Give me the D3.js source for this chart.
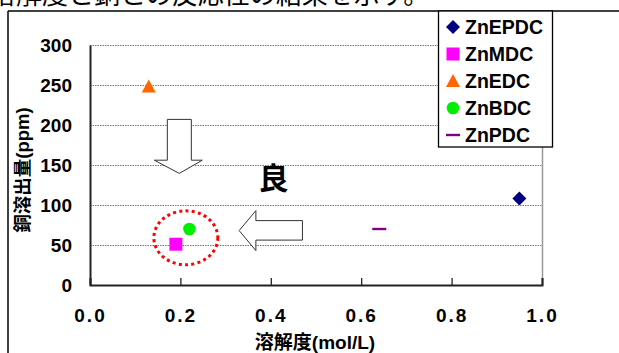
<!DOCTYPE html>
<html><head><meta charset="utf-8">
<script src="https://cdn.jsdelivr.net/npm/d3@7"></script>
<style>
html,body{margin:0;padding:0;background:#fff;overflow:hidden;}
svg{display:block;}
</style></head>
<body>
<script>
const seriesNames = ["ZnEPDC","ZnMDC","ZnEDC","ZnBDC","ZnPDC"];
const seriesX = [0.95, 0.19, 0.13, 0.22, 0.64];
const seriesY = [108, 51, 248, 70, 70];
const seriesColors = ["#000080","#ff00ff","#ff6600","#00ee00","#800080"];
const seriesShapes = ["diamond","square","triangle","circle","dash"];
const xTicks = [0.0,0.2,0.4,0.6,0.8,1.0];
const yTicks = [0,50,100,150,200,250,300];

const W=619,H=353;
const svg=d3.select("body").append("svg").attr("width",W).attr("height",H);
const latin="'Liberation Sans', Arial, sans-serif";
const cjk="'Liberation Sans','Noto Sans CJK JP', sans-serif";

// partial heading (cut off at top, as in the source page)
svg.append("text").attr("x",-10).attr("y",4).attr("font-family","'Noto Sans CJK JP'")
  .attr("font-size",26).attr("fill","#000").text("溶解度と銅との反応性の結果を示す。");

// outer frame
svg.append("line").attr("x1",8).attr("x2",W).attr("y1",11).attr("y2",11).attr("stroke","#000").attr("stroke-width",1.5);
svg.append("line").attr("x1",8).attr("x2",8).attr("y1",11).attr("y2",H).attr("stroke","#000").attr("stroke-width",1.5);

const x=d3.scaleLinear().domain([0,1]).range([90,542]);
const y=d3.scaleLinear().domain([0,300]).range([285,45]);

// gridlines
svg.append("g").selectAll("line").data(yTicks.filter(t=>t>0)).join("line")
  .attr("x1",x(0)).attr("x2",x(1)).attr("y1",d=>y(d)+0.5).attr("y2",d=>y(d)+0.5)
  .attr("stroke","#777").attr("stroke-width",1).attr("stroke-dasharray","1.5,1");
// right border
svg.append("line").attr("x1",x(1)+0.5).attr("x2",x(1)+0.5).attr("y1",y(300)).attr("y2",y(0))
  .attr("stroke","#999").attr("stroke-width",1.5);

// axes
const xAxis=svg.append("g").attr("transform",`translate(0,${y(0)})`)
  .call(d3.axisBottom(x).tickValues(xTicks).tickSize(-7).tickPadding(20).tickFormat(d3.format(".1f")));
const yAxis=svg.append("g").attr("transform",`translate(${x(0)},0)`)
  .call(d3.axisLeft(y).tickValues(yTicks).tickSize(0).tickPadding(18));
[xAxis,yAxis].forEach(g=>{
  g.select(".domain").attr("stroke","#222").attr("stroke-width",2);
  g.selectAll(".tick line").attr("stroke","#222").attr("stroke-width",1.3);
  g.selectAll("text").attr("font-family",latin).attr("font-weight","bold").attr("font-size",19).attr("fill","#000");
});
xAxis.selectAll("text").attr("letter-spacing",2).attr("dy","0.9em");
yAxis.selectAll("text").attr("dy","0.36em");

// axis titles
svg.append("text").attr("x",315).attr("y",349).attr("text-anchor","middle")
  .attr("font-family",cjk).attr("font-weight","bold").attr("font-size",19).text("溶解度(mol/L)");
svg.append("text").attr("transform","translate(29,170) rotate(-90)").attr("text-anchor","middle")
  .attr("font-family",cjk).attr("font-weight","bold").attr("font-size",18.5).text("銅溶出量(ppm)");

// markers
function drawMarker(g,shape,color,cx,cy){
  if(shape==="diamond") g.append("path").attr("d",`M${cx},${cy-7}L${cx+7},${cy}L${cx},${cy+7}L${cx-7},${cy}Z`).attr("fill",color);
  else if(shape==="square") g.append("rect").attr("x",cx-6.5).attr("y",cy-6.5).attr("width",13).attr("height",13).attr("fill",color);
  else if(shape==="triangle") g.append("path").attr("d",`M${cx},${cy-7}L${cx+7},${cy+6}L${cx-7},${cy+6}Z`).attr("fill",color);
  else if(shape==="circle") g.append("circle").attr("cx",cx).attr("cy",cy).attr("r",6.3).attr("fill",color);
  else if(shape==="dash") g.append("rect").attr("x",cx-7).attr("y",cy-1.2).attr("width",14).attr("height",2.4).attr("fill",color);
}
const pts=svg.append("g");
seriesNames.forEach((n,i)=>drawMarker(pts,seriesShapes[i],seriesColors[i],x(seriesX[i]),y(seriesY[i])));

// annotations: dotted ellipse
svg.append("ellipse").attr("cx",x(0.212)).attr("cy",y(59)).attr("rx",32).attr("ry",27)
  .attr("fill","none").attr("stroke","#ff0000").attr("stroke-width",3).attr("stroke-dasharray","3,3.3");

// down arrow
{
  const cx=x(0.1976), top=y(207), hs=y(156), tip=y(139.5);
  svg.append("path").attr("d",`M${cx-12},${top}L${cx+12},${top}L${cx+12},${hs}L${cx+23},${hs}L${cx},${tip}L${cx-25},${hs}L${cx-12},${hs}Z`)
    .attr("fill","#fff").attr("stroke","#333").attr("stroke-width",1);
}
// left arrow
{
  const tx=x(0.330), cy=y(68), hb=x(0.367), re=x(0.47);
  svg.append("path").attr("d",`M${tx},${cy}L${hb},${cy-20}L${hb},${cy-10}L${re},${cy-10}L${re},${cy+9.5}L${hb},${cy+9.5}L${hb},${cy+20}Z`)
    .attr("fill","#fff").attr("stroke","#333").attr("stroke-width",1);
}
// 良
svg.append("text").attr("x",x(0.406)).attr("y",y(120)).attr("text-anchor","middle")
  .attr("font-family","'Noto Sans CJK JP'").attr("font-weight","bold").attr("font-size",30).text("良");

// legend
const lg=svg.append("g");
lg.append("rect").attr("x",438.5).attr("y",11).attr("width",114).attr("height",136)
  .attr("fill","#fff").attr("stroke","#000").attr("stroke-width",1.3);
seriesNames.forEach((n,i)=>{
  const cy=27+i*27;
  drawMarker(lg,seriesShapes[i],seriesColors[i],453,cy);
  lg.append("text").attr("x",465).attr("y",cy).attr("dy","0.36em").attr("font-family",latin)
    .attr("font-weight","bold").attr("font-size",19.5).text(n);
});
</script>
</body></html>
